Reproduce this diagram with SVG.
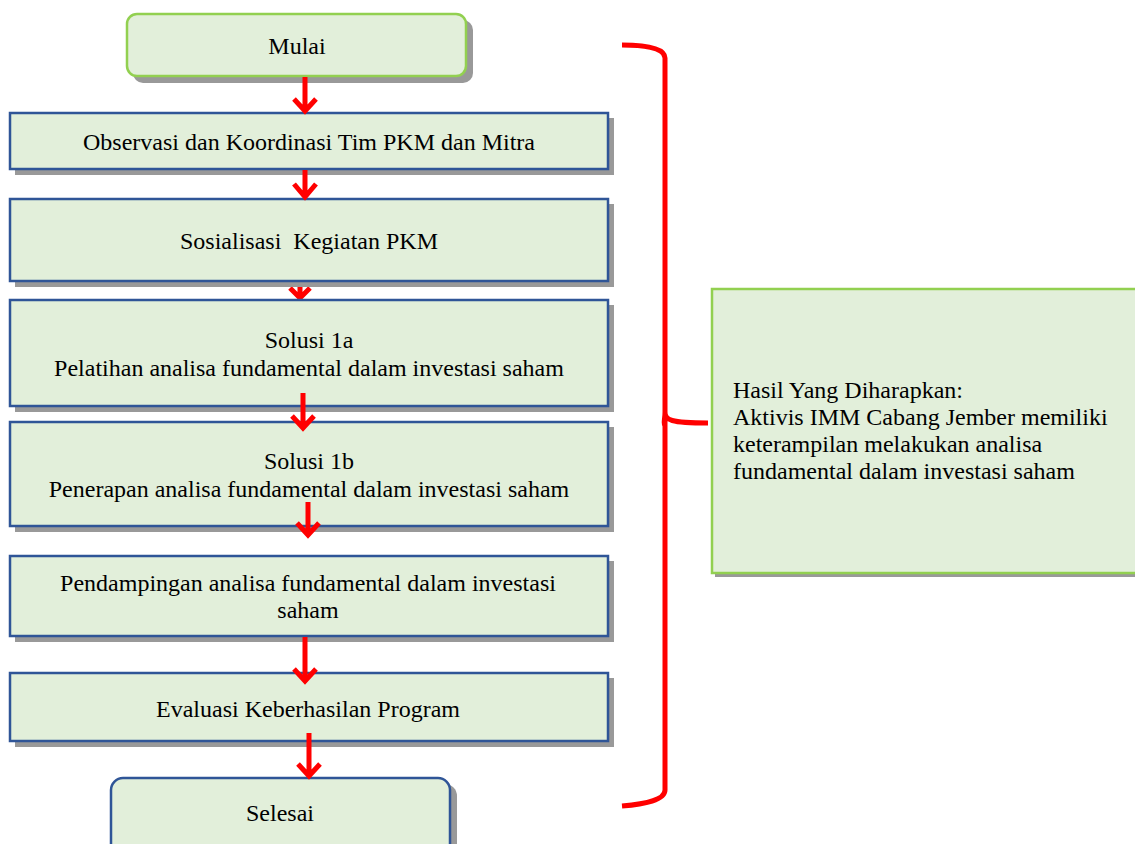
<svg xmlns="http://www.w3.org/2000/svg" width="1135" height="844" viewBox="0 0 1135 844">
<defs>
<style>
.t{font-family:"Liberation Serif","Times New Roman",serif;font-size:24px;fill:#000;}
.c{text-anchor:middle;}
.sh{fill:#999;}
.bb{fill:#e2efda;stroke:#2f5597;stroke-width:2.5;}
.gb{fill:#e2efda;stroke:#92d050;stroke-width:2.5;}
.ar{fill:none;stroke:#ff0000;stroke-width:5;stroke-linecap:butt;stroke-linejoin:miter;}
.br{fill:none;stroke:#ff0000;stroke-width:5;}
</style>
</defs>
<rect width="1135" height="844" fill="#fff"/>
<g id="connectors-back">
<path class="ar" d="M300 282V298M290 288L300 298L310 288"/>
</g>
<g id="mulai">
<rect class="sh" x="133" y="20" width="340" height="63" rx="10"/>
<rect class="gb" x="127" y="14" width="339" height="62" rx="10"/>
<text class="t c" x="297" y="54">Mulai</text>
</g>
<g id="observasi">
<rect class="sh" x="15" y="118" width="599" height="57"/>
<rect class="bb" x="10" y="113" width="598" height="56"/>
<text class="t c" x="309" y="150">Observasi dan Koordinasi Tim PKM dan Mitra</text>
</g>
<g id="sosialisasi">
<rect class="sh" x="15" y="204" width="599" height="83"/>
<rect class="bb" x="10" y="199" width="598" height="82"/>
<text class="t c" x="309" y="249" xml:space="preserve">Sosialisasi  Kegiatan PKM</text>
</g>
<g id="solusi1a">
<rect class="sh" x="15" y="305" width="599" height="107"/>
<rect class="bb" x="10" y="300" width="598" height="106"/>
<text class="t c" x="309" y="348">Solusi 1a</text>
<text class="t c" x="309" y="376">Pelatihan analisa fundamental dalam investasi saham</text>
</g>
<g id="solusi1b">
<rect class="sh" x="15" y="427" width="599" height="105"/>
<rect class="bb" x="10" y="422" width="598" height="104"/>
<text class="t c" x="309" y="469">Solusi 1b</text>
<text class="t c" x="309" y="497">Penerapan analisa fundamental dalam investasi saham</text>
</g>
<g id="pendampingan">
<rect class="sh" x="15" y="561" width="599" height="81"/>
<rect class="bb" x="10" y="556" width="598" height="80"/>
<text class="t c" x="308" y="591">Pendampingan analisa fundamental dalam investasi</text>
<text class="t c" x="308" y="618">saham</text>
</g>
<g id="evaluasi">
<rect class="sh" x="15" y="678" width="599" height="69"/>
<rect class="bb" x="10" y="673" width="598" height="68"/>
<text class="t c" x="308" y="717">Evaluasi Keberhasilan Program</text>
</g>
<g id="selesai">
<rect class="sh" x="117" y="784" width="340" height="80" rx="12"/>
<rect class="bb" x="111" y="778" width="339" height="80" rx="12"/>
<text class="t c" x="280" y="821">Selesai</text>
</g>
<g id="hasil">
<rect class="sh" x="715" y="292" width="425" height="285"/>
<rect class="gb" x="712" y="289" width="428" height="284"/>
<text class="t" x="733" y="398">Hasil Yang Diharapkan:</text>
<text class="t" x="733" y="425">Aktivis IMM Cabang Jember memiliki</text>
<text class="t" x="733" y="452">keterampilan melakukan analisa</text>
<text class="t" x="733" y="479">fundamental dalam investasi saham</text>
</g>
<g id="connectors">
<path class="ar" d="M305 77V111M294 99L305 111L316 99"/>
<path class="ar" d="M305 170V197M294 184L305 197L316 184"/>
<path class="ar" d="M303 393V428M292 416L303 428L314 416"/>
<path class="ar" d="M308 502V535M297 523L308 535L319 523"/>
<path class="ar" d="M305 637V681M294 669L305 681L316 669"/>
<path class="ar" d="M309 733V776M298 764L309 776L320 764"/>
<path class="br" d="M622 45C640 45 665 47 665 58V412C665 420 670 423 708 423M665 412C665 420 663 423 665 426M665 420V790C665 800 645 804 622 806"/>
</g>
</svg>
